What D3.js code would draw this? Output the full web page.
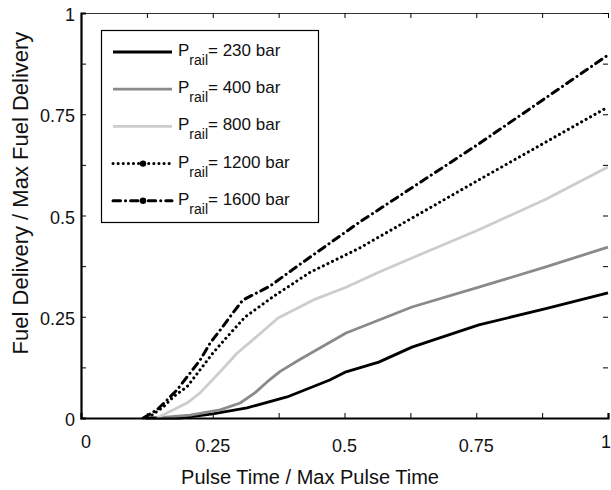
<!DOCTYPE html>
<html lang="en">
    <head>
        <meta charset="utf-8">
        <title>Fuel delivery vs pulse time</title>
        <script src="https://d3js.org/d3.v7.min.js"></script>
        <style type="text/css">
            body { margin: 0; background: #fff; }
            text { font-family: "Liberation Sans", Arial, sans-serif; fill: #111; }
            .tick-label { font-size: 18px; }
            .axis-title { font-size: 20px; }
            .legend-text { font-size: 17px; }
        </style>
    </head>
    <body>
        <script type="text/javascript">
            // Data (normalised pulse time -> normalised delivery)
            const x230 = [0.121, 0.188, 0.25, 0.315, 0.391, 0.472, 0.503, 0.565, 0.628, 0.755, 0.882, 1.0];
            const y230 = [0, 0, 0.01, 0.025, 0.052, 0.094, 0.114, 0.138, 0.175, 0.23, 0.27, 0.309];

            const x400 = [0.144, 0.207, 0.264, 0.302, 0.33, 0.353, 0.378, 0.416, 0.503, 0.628, 0.755, 0.882, 1.0];
            const y400 = [0, 0.007, 0.02, 0.037, 0.062, 0.089, 0.115, 0.145, 0.21, 0.274, 0.323, 0.373, 0.422];

            const x800 = [0.144, 0.201, 0.226, 0.264, 0.296, 0.326, 0.374, 0.44, 0.503, 0.565, 0.628, 0.755, 0.882, 1.0];
            const y800 = [0, 0.037, 0.062, 0.114, 0.16, 0.193, 0.247, 0.291, 0.323, 0.36, 0.395, 0.465, 0.54, 0.62];

            const x1200 = [0.127, 0.156, 0.175, 0.201, 0.226, 0.25, 0.277, 0.311, 0.364, 0.435, 0.529, 0.755, 1.0];
            const y1200 = [0, 0.027, 0.052, 0.077, 0.119, 0.16, 0.2, 0.249, 0.299, 0.36, 0.42, 0.588, 0.768];

            const x1600 = [0.118, 0.144, 0.163, 0.182, 0.201, 0.226, 0.245, 0.264, 0.288, 0.307, 0.359, 0.416, 0.529, 0.755, 1.0];
            const y1600 = [0, 0.02, 0.044, 0.069, 0.101, 0.143, 0.185, 0.217, 0.259, 0.291, 0.326, 0.38, 0.484, 0.677, 0.896];

            const pressures = ["230", "400", "800", "1200", "1600"];
            const tickLabels = ["0", "0.25", "0.5", "0.75", "1"];
            const tickLabelValues = [0, 0.25, 0.5, 0.75, 1];
            const minorTicks = d3.range(0, 1.0001, 0.125);

            //constants
            const w = 611;
            const h = 490;
            const mLeft = 81, mRight = 608, mTop = 13, mBottom = 418;

            const x = d3.scaleLinear().domain([0, 1]).range([mLeft, mRight]);
            const y = d3.scaleLinear().domain([0, 1]).range([mBottom, mTop]);

            // line styles per series
            const styles = [
                {color: "#000", width: 2.8, dash: null},
                {color: "#8a8a8a", width: 2.8, dash: null},
                {color: "#cdcdcd", width: 2.8, dash: null},
                {color: "#000", width: 3, dash: "0.1 5", marker: true},
                {color: "#000", width: 3, dash: "7.5 5 0.1 5", marker: true}
            ];

            const series = [
                d3.zip(x230, y230),
                d3.zip(x400, y400),
                d3.zip(x800, y800),
                d3.zip(x1200, y1200),
                d3.zip(x1600, y1600)
            ];

            const svg = d3.select("body")
                          .append("svg")
                          .attr("width", w)
                          .attr("height", h);

            const line = d3.line()
                           .x(d => x(d[0]))
                           .y(d => y(d[1]));

            // curves
            svg.selectAll("path.curve")
               .data(series)
               .enter()
               .append("path")
               .attr("class", "curve")
               .attr("fill", "none")
               .attr("stroke", (d, i) => styles[i].color)
               .attr("stroke-width", (d, i) => styles[i].width)
               .attr("stroke-linecap", (d, i) => styles[i].dash ? "round" : "butt")
               .attr("stroke-linejoin", "round")
               .attr("stroke-dasharray", (d, i) => styles[i].dash)
               .attr("d", line);

            // axes, ticks pointing inward on all four sides
            const tick = 5;
            svg.append("g")
               .attr("transform", "translate(0," + mBottom + ")")
               .call(d3.axisTop(x).tickValues(minorTicks).tickSize(tick).tickFormat(""))
               .call(g => g.select(".domain").attr("stroke-width", 2.2));
            svg.append("g")
               .attr("transform", "translate(0," + mTop + ")")
               .call(d3.axisBottom(x).tickValues(minorTicks).tickSize(tick).tickFormat(""))
               .call(g => g.select(".domain").attr("stroke-width", 1).attr("stroke", "#333"));
            svg.append("g")
               .attr("transform", "translate(" + mLeft + ",0)")
               .call(d3.axisRight(y).tickValues(minorTicks).tickSize(tick).tickFormat(""))
               .call(g => g.select(".domain").attr("stroke-width", 2.2));
            svg.append("g")
               .attr("transform", "translate(" + mRight + ",0)")
               .call(d3.axisLeft(y).tickValues(minorTicks).tickSize(tick).tickFormat(""))
               .call(g => g.select(".domain").remove());

            // tick labels
            svg.selectAll("text.xlab")
               .data(tickLabelValues)
               .enter()
               .append("text")
               .attr("class", "tick-label")
               .attr("text-anchor", "middle")
               .attr("x", d => x(d) + (d === 0 ? 5 : d === 1 ? -2 : 0))
               .attr("y", d => mBottom + (d === 0 || d === 1 ? 30 : 34))
               .text((d, i) => tickLabels[i]);

            svg.selectAll("text.ylab")
               .data(tickLabelValues)
               .enter()
               .append("text")
               .attr("class", "tick-label")
               .attr("text-anchor", "end")
               .attr("x", mLeft - 6)
               .attr("y", d => y(d) + 8)
               .text((d, i) => tickLabels[i]);

            // axis titles
            svg.append("text")
               .attr("class", "axis-title")
               .attr("text-anchor", "middle")
               .attr("x", 310)
               .attr("y", 484)
               .text("Pulse Time / Max Pulse Time");

            svg.append("text")
               .attr("class", "axis-title")
               .attr("text-anchor", "middle")
               .style("font-size", "22px")
               .attr("transform", "translate(28,193) rotate(-90)")
               .text("Fuel Delivery / Max Fuel Delivery");

            // legend
            const legend = svg.append("g");
            legend.append("rect")
                  .attr("x", 101.5)
                  .attr("y", 30.5)
                  .attr("width", 217)
                  .attr("height", 192)
                  .attr("fill", "#fff")
                  .attr("stroke", "#000")
                  .attr("stroke-width", 1.2);

            const rows = legend.selectAll("g.row")
                  .data(pressures)
                  .enter()
                  .append("g")
                  .attr("class", "row")
                  .attr("transform", (d, i) => "translate(0," + (52 + i * 37.2) + ")");

            rows.append("line")
                .attr("x1", 113).attr("x2", 172)
                .attr("stroke", (d, i) => styles[i].color)
                .attr("stroke-width", (d, i) => styles[i].width)
                .attr("stroke-linecap", (d, i) => styles[i].dash ? "round" : "butt")
                .attr("stroke-dasharray", (d, i) => styles[i].dash);

            rows.filter((d, i) => styles[i].marker)
                .append("circle")
                .attr("cx", 143)
                .attr("r", 3.2)
                .attr("fill", "#000");

            const label = rows.append("text")
                .attr("class", "legend-text")
                .attr("x", 178)
                .attr("y", 4);
            label.append("tspan").text("P");
            label.append("tspan").style("font-size", "14px").attr("dy", 9).text("rail");
            label.append("tspan").attr("dy", -9).text(d => "= " + d + " bar");
        </script>
    </body>
</html>
